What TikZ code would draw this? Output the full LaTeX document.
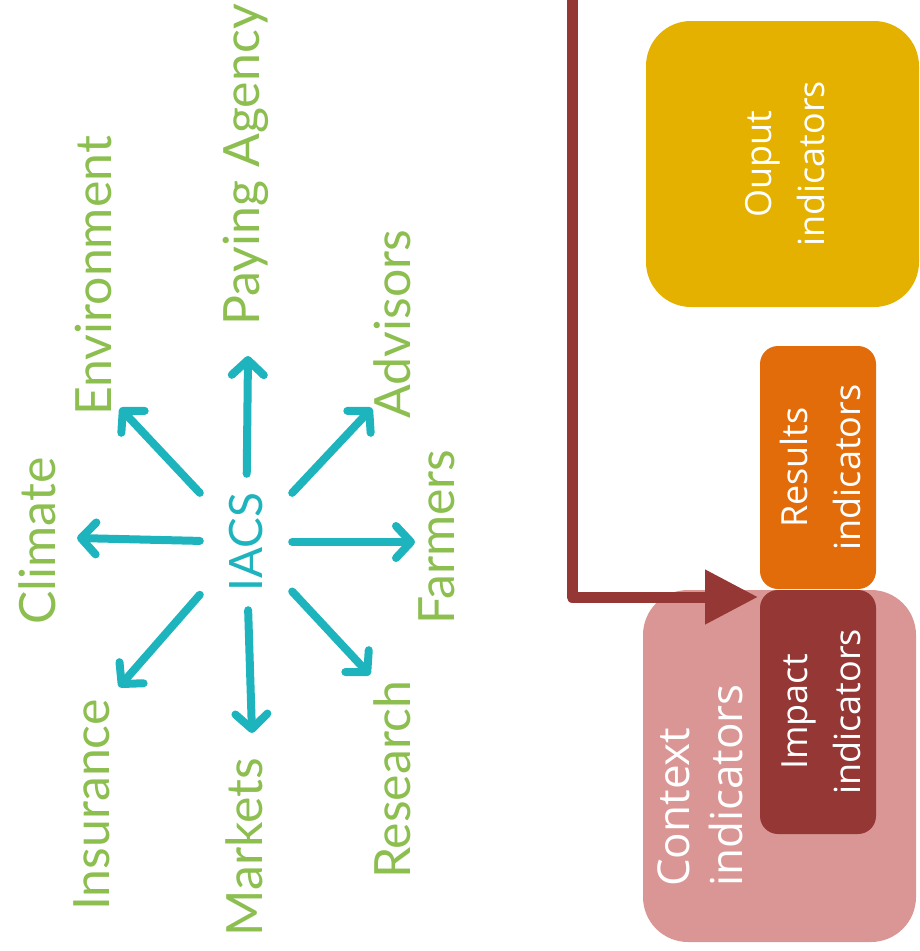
\documentclass[tikz,border=0pt]{standalone}
\usepackage{fontspec}
\setmainfont{Open Sans}
\newfontfamily\handfont{Lato}
\usetikzlibrary{arrows.meta}
\definecolor{outc}{HTML}{E4B100}
\definecolor{resc}{HTML}{E36C0A}
\definecolor{impc}{HTML}{953735}
\definecolor{ctxc}{HTML}{D99694}
\definecolor{arrc}{HTML}{953735}
\definecolor{grnc}{HTML}{8CBE50}
\definecolor{tealc}{HTML}{1DB4BD}
\newcommand\vtxt[2]{\rotatebox{90}{\raisebox{0pt}[\dimexpr\height+10pt][\depth]{\begin{tabular}{@{}c@{}}#1\\#2\end{tabular}}}}
\begin{document}
\begin{tikzpicture}[x=1pt,y=-1pt,
  box/.style={rectangle, inner sep=0pt, outer sep=0pt, text=white, font=\fontsize{36}{53}\selectfont},
  lbl/.style={text=grnc, font=\handfont\fontsize{50}{50}\selectfont, rotate=90, inner sep=0pt},
  spoke/.style={draw=tealc, line width=8pt, line cap=round, line join=round, -{Straight Barb[length=15pt,width=32pt,round]}},
  flow/.style={draw=arrc, line width=11pt, line join=round, -{Triangle[length=53pt,width=52pt]}, shorten >=2pt}]
\useasboundingbox (0,0) rectangle (919,951);
% right side boxes
\node[box, fill=outc, minimum width=273pt, minimum height=286pt, rounded corners=45pt] (out) at (782.5,164) {\vtxt{Ouput}{indicators}};
\node[box, fill=resc, minimum width=116pt, minimum height=243pt, rounded corners=18pt] (res) at (818,467.5) {\vtxt{Results}{indicators}};
\node[box, fill=ctxc, minimum width=273pt, minimum height=352pt, rounded corners=45pt] (ctx) at (779.5,766) {};
\node[text=white, rotate=90, anchor=west, align=left, inner sep=0pt, font=\fontsize{44}{53}\selectfont] (ctxt) at (700,887) {Context\\indicators};
\node[box, fill=impc, minimum width=116pt, minimum height=244pt, rounded corners=18pt] (imp) at (818,712) {\vtxt{Impact}{indicators}};
\coordinate (top) at (572,0);
\draw[flow] (top) |- ([yshift=-7pt]imp.north west);
% left side
\node[text=tealc, rotate=90, inner sep=0pt, minimum width=136pt, minimum height=92pt, font=\handfont\fontsize{46}{46}\selectfont] (iacs) at (246,542) {IACS};
\node[lbl] (cli) at (37,541) {Climate};
\node[lbl] (env) at (93,276) {Environment};
\node[lbl] (agy) at (246,165) {Paying Agency};
\node[lbl] (adv) at (392,324) {Advisors};
\node[lbl] (far) at (437,537) {Farmers};
\node[lbl] (res2) at (392,780) {Research};
\node[lbl] (mkt) at (244,847) {Markets};
\node[lbl] (ins) at (92,805) {Insurance};
\coordinate (envtip) at (120,408);
\coordinate (agytip) at (248,356);
\coordinate (advtip) at (372,408);
\coordinate (clitip) at (77,538);
\coordinate (fartip) at (415,542);
\coordinate (instip) at (119,687);
\coordinate (mkttip) at (252,733);
\coordinate (restip) at (370,675);
\foreach \t in {envtip,agytip,advtip,clitip,fartip,instip,mkttip,restip}
  \draw[spoke] (iacs) -- (\t);
\end{tikzpicture}
\end{document}
